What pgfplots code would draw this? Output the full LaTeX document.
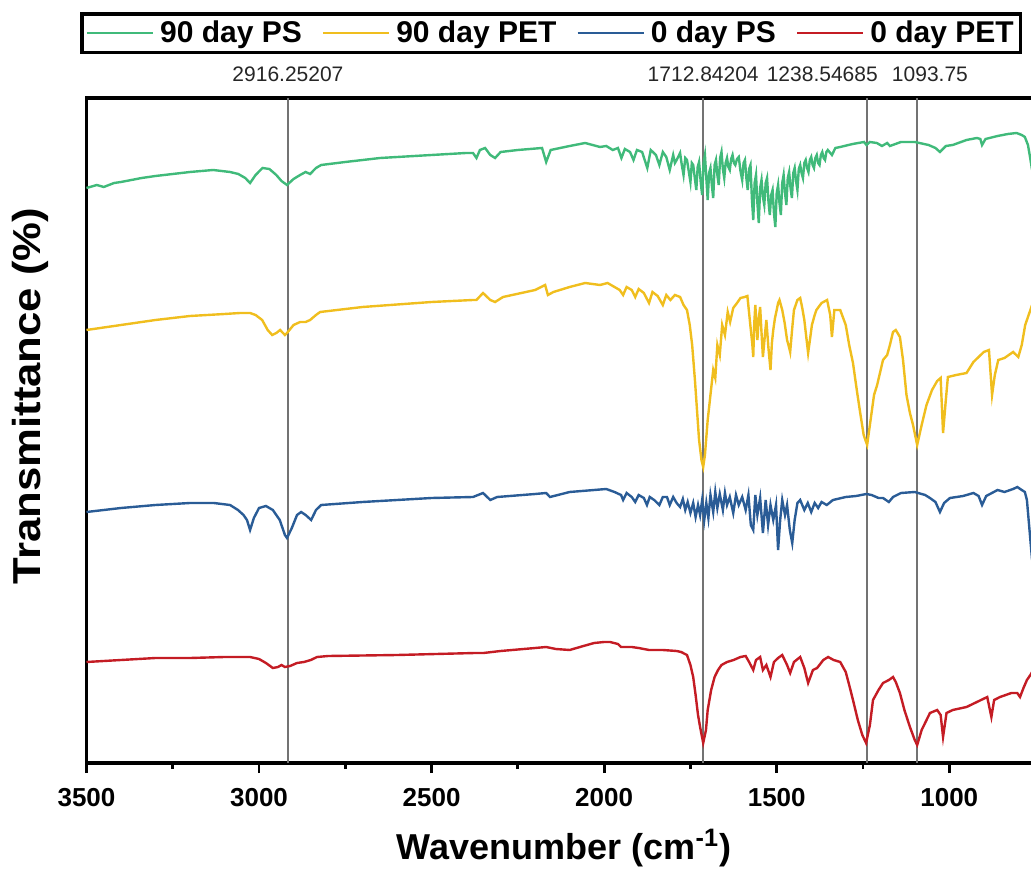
\documentclass[border=0pt]{standalone}
\usepackage{fontspec}
\setmainfont{Liberation Sans}
\newfontfamily\widesf{Liberation Sans}[FakeStretch=1.12]
\usepackage{pgfplots}
\pgfplotsset{compat=1.18}
\definecolor{cgreen}{RGB}{64,186,122}
\definecolor{cyellow}{RGB}{240,190,30}
\definecolor{cblue}{RGB}{42,92,150}
\definecolor{cred}{RGB}{196,28,36}
\definecolor{vgray}{RGB}{115,115,115}
\begin{document}
\begin{tikzpicture}
\begin{axis}[
  at={(43.25pt,54.5pt)}, anchor=south west,
  scale only axis, width=472.8pt, height=332.5pt,
  xmin=760, xmax=3500, x dir=reverse,
  ymin=0, ymax=665,
  clip=false,
  xtick={1000,1500,2000,2500,3000,3500},
  minor x tick num=1,
  ytick=\empty,
  xtick pos=bottom, tick align=outside,
  major tick length=5pt, minor tick length=3pt,
  every tick/.style={black, line width=1.4pt},
  axis line style={line width=1.6pt},
  /pgf/number format/assume math mode=true,
  /pgf/number format/1000 sep={},
  xticklabel style={font=\bfseries\fontsize{13}{15}\selectfont, yshift=-4pt},
  xlabel={Wavenumber (cm\textsuperscript{-1})},
  every axis x label/.style={at={(axis description cs:0.505,-0.128)}, anchor=center, font=\bfseries\fontsize{18}{21}\selectfont},
  ylabel={Transmittance (\%)},
  every axis y label/.style={at={(axis description cs:-0.0598,0.552)}, rotate=90, anchor=center, font=\widesf\bfseries\fontsize{19.5}{22}\selectfont},
  legend columns=4,
  legend image code/.code={\draw[#1] (0pt,0pt) -- (33pt,0pt);},
  legend style={at={(axis description cs:-0.0069,1.1293)}, anchor=north west,
    draw=black, line width=1.8pt, inner sep=2pt,
    font=\bfseries\fontsize{15}{17}\selectfont,
    nodes={inner sep=1.5pt},
    /tikz/every odd column/.append style={column sep=1.5pt},
    /tikz/every even column/.append style={column sep=8.5pt}},
]
% reference lines
\addplot[vgray, line width=0.8pt, forget plot] coordinates {(2916.25207,0) (2916.25207,665)};
\addplot[vgray, line width=0.8pt, forget plot] coordinates {(1712.84204,0) (1712.84204,665)};
\addplot[vgray, line width=0.8pt, forget plot] coordinates {(1238.54685,0) (1238.54685,665)};
\addplot[vgray, line width=0.8pt, forget plot] coordinates {(1093.75,0) (1093.75,665)};
% 90 day PS
\addplot[cgreen, line width=1.2pt] coordinates {
(3500,575)(3470,578)(3450,576)(3420,580)(3400,581)(3370,583)(3340,585)(3300,587)(3250,589)(3200,591)(3133,593)(3084,591)(3060,589)(3040,585)(3026,580)(3010,588)(2990,595)(2970,594)(2950,588)(2935,582)(2919,578)(2900,584)(2881,588)(2865,591)(2852,589)(2835,595)(2820,598)(2750,601)(2649,605)(2500,608)(2400,610)(2380,610)(2370,605)(2360,613)(2345,615)(2330,608)(2316,605)(2300,611)(2250,613)(2180,615)(2168,601)(2155,613)(2100,617)(2055,620)(2012,616)(1994,617)(1975,613)(1960,615)(1950,605)(1940,614)(1925,611)(1915,603)(1905,613)(1890,611)(1875,595)(1865,613)(1850,608)(1840,598)(1830,611)(1820,606)(1810,593)(1800,608)(1795,600)(1790,603)(1780,610)(1775,598)(1770,588)(1765,605)(1760,603)(1755,592)(1750,581)(1746,600)(1742,598)(1737,584)(1733,573)(1729,596)(1725,601)(1720,580)(1716,568)(1712,600)(1708,608)(1704,585)(1700,563)(1696,590)(1692,595)(1688,578)(1684,565)(1680,598)(1676,603)(1672,588)(1668,578)(1664,605)(1660,611)(1656,594)(1652,585)(1648,600)(1644,605)(1640,596)(1636,593)(1632,604)(1628,608)(1624,600)(1620,598)(1615,604)(1610,606)(1605,592)(1600,583)(1596,600)(1592,603)(1588,585)(1584,573)(1580,594)(1576,598)(1572,565)(1568,543)(1564,580)(1560,588)(1556,560)(1552,540)(1548,575)(1544,583)(1540,566)(1536,558)(1532,580)(1528,585)(1524,562)(1520,548)(1516,568)(1512,573)(1508,550)(1504,536)(1500,570)(1496,578)(1492,560)(1488,548)(1484,580)(1480,588)(1476,570)(1472,558)(1468,585)(1464,591)(1460,575)(1456,565)(1452,590)(1448,595)(1444,582)(1440,573)(1436,594)(1432,598)(1428,590)(1424,585)(1420,600)(1416,603)(1412,595)(1408,591)(1404,603)(1400,606)(1396,598)(1392,595)(1388,605)(1384,608)(1380,600)(1376,598)(1372,608)(1368,611)(1364,605)(1360,603)(1356,611)(1352,613)(1340,608)(1330,615)(1316,616)(1280,619)(1247,621)(1240,618)(1230,621)(1210,620)(1195,617)(1180,620)(1172,617)(1140,621)(1100,621)(1060,618)(1040,615)(1027,611)(1010,617)(990,618)(950,623)(920,625)(910,624)(905,618)(895,624)(860,627)(830,629)(805,630)(790,628)(781,626)(772,618)(766,606)(760,593)
};
\addlegendentry{90 day PS}
% 90 day PET
\addplot[cyellow, line width=1.2pt] coordinates {
(3500,433)(3400,438)(3300,443)(3200,447)(3100,449)(3055,450)(3026,450)(3010,448)(2991,443)(2975,433)(2962,428)(2950,430)(2939,433)(2925,428)(2919,430)(2900,438)(2881,441)(2865,441)(2852,443)(2835,448)(2823,451)(2700,456)(2500,461)(2380,463)(2370,463)(2351,470)(2330,463)(2316,461)(2293,466)(2200,473)(2171,478)(2163,468)(2147,471)(2100,476)(2055,480)(2012,478)(1990,480)(1970,476)(1955,473)(1945,468)(1935,476)(1920,473)(1910,466)(1900,474)(1885,470)(1870,460)(1860,471)(1845,467)(1830,458)(1820,468)(1808,463)(1795,468)(1780,466)(1770,458)(1760,453)(1752,438)(1745,418)(1737,383)(1731,353)(1725,323)(1718,303)(1713,296)(1708,308)(1700,343)(1692,368)(1684,393)(1678,385)(1672,418)(1665,408)(1658,438)(1650,428)(1642,451)(1635,441)(1626,455)(1615,460)(1605,465)(1593,466)(1585,467)(1580,450)(1575,433)(1571,420)(1568,406)(1565,440)(1562,458)(1559,440)(1556,423)(1552,445)(1548,456)(1544,430)(1540,406)(1535,425)(1530,443)(1524,415)(1518,393)(1514,420)(1510,433)(1505,445)(1500,453)(1496,460)(1492,463)(1488,458)(1484,453)(1477,440)(1470,423)(1466,418)(1461,411)(1455,435)(1450,453)(1445,458)(1440,463)(1432,465)(1426,455)(1420,443)(1414,425)(1409,410)(1403,425)(1398,438)(1390,448)(1385,453)(1370,460)(1354,463)(1345,448)(1340,426)(1333,453)(1316,453)(1300,438)(1290,418)(1279,400)(1268,373)(1258,350)(1248,328)(1238,318)(1228,343)(1218,368)(1209,378)(1192,403)(1180,408)(1172,418)(1163,431)(1155,433)(1143,426)(1134,403)(1124,368)(1114,350)(1105,338)(1093,318)(1080,338)(1066,358)(1050,373)(1035,382)(1025,385)(1018,330)(1010,363)(1004,386)(980,388)(950,390)(930,401)(900,411)(885,413)(876,368)(868,388)(858,403)(840,405)(815,411)(800,406)(790,418)(780,438)(770,448)(760,458)
};
\addlegendentry{90 day PET}
% 0 day PS
\addplot[cblue, line width=1.2pt] coordinates {
(3500,251)(3450,253)(3400,255)(3300,258)(3200,260)(3131,260)(3084,258)(3061,253)(3045,248)(3035,243)(3026,233)(3015,245)(3000,255)(2980,257)(2960,253)(2940,243)(2925,228)(2919,225)(2905,235)(2890,248)(2878,251)(2865,248)(2849,243)(2835,253)(2820,258)(2700,261)(2500,265)(2380,266)(2351,270)(2330,263)(2310,266)(2200,269)(2168,270)(2157,266)(2100,271)(2029,273)(1994,274)(1970,271)(1951,268)(1945,263)(1935,270)(1920,266)(1910,261)(1900,268)(1885,265)(1876,258)(1868,266)(1855,263)(1840,258)(1830,266)(1818,266)(1810,258)(1800,266)(1790,260)(1780,256)(1772,264)(1765,253)(1758,261)(1750,250)(1742,260)(1735,246)(1728,258)(1722,248)(1716,263)(1710,243)(1704,260)(1698,245)(1692,268)(1684,251)(1678,271)(1672,255)(1665,269)(1656,253)(1650,270)(1644,258)(1636,266)(1626,250)(1618,268)(1610,258)(1600,266)(1590,253)(1582,268)(1575,238)(1568,233)(1562,268)(1556,248)(1548,265)(1540,230)(1532,263)(1525,238)(1518,258)(1510,243)(1502,258)(1496,213)(1490,243)(1484,263)(1476,248)(1470,258)(1462,233)(1455,220)(1448,243)(1440,260)(1432,263)(1420,253)(1410,260)(1400,251)(1390,260)(1380,255)(1370,261)(1355,258)(1337,263)(1300,266)(1270,267)(1240,269)(1225,268)(1205,265)(1192,265)(1175,261)(1163,266)(1140,270)(1100,271)(1070,268)(1056,265)(1040,261)(1027,251)(1015,260)(998,265)(960,267)(930,270)(915,267)(905,258)(893,267)(860,273)(840,271)(815,274)(803,276)(790,273)(781,271)(775,263)(770,243)(765,223)(760,203)
};
\addlegendentry{0 day PS}
% 0 day PET
\addplot[cred, line width=1.2pt] coordinates {
(3500,101)(3400,103)(3300,105)(3200,105)(3100,106)(3026,106)(3000,104)(2980,100)(2960,95)(2945,96)(2935,98)(2925,96)(2910,97)(2890,100)(2870,101)(2850,103)(2832,106)(2800,107)(2600,108)(2374,110)(2350,110)(2300,112)(2200,115)(2168,116)(2140,114)(2100,113)(2060,117)(2029,120)(2000,121)(1983,121)(1960,119)(1951,116)(1920,116)(1900,115)(1870,113)(1830,113)(1790,112)(1777,111)(1760,108)(1750,98)(1742,86)(1735,68)(1728,48)(1722,36)(1713,20)(1705,33)(1700,53)(1690,73)(1680,86)(1670,93)(1660,98)(1644,101)(1625,103)(1605,106)(1590,107)(1580,101)(1568,93)(1560,103)(1548,106)(1540,93)(1530,98)(1518,86)(1508,101)(1496,105)(1484,108)(1470,98)(1461,90)(1450,101)(1432,106)(1420,95)(1409,80)(1395,93)(1383,95)(1365,103)(1351,106)(1335,103)(1316,101)(1300,91)(1290,78)(1279,63)(1265,43)(1252,28)(1241,20)(1230,38)(1221,63)(1205,73)(1192,80)(1175,83)(1163,86)(1155,81)(1143,70)(1130,53)(1114,36)(1100,23)(1093,18)(1080,33)(1056,50)(1035,53)(1025,48)(1018,26)(1008,50)(990,53)(950,56)(920,61)(890,66)(878,46)(870,63)(853,66)(820,70)(803,70)(795,66)(785,75)(775,83)(765,88)(760,91)
};
\addlegendentry{0 day PET}
% peak labels
\node[font=\fontsize{10.5}{12}\selectfont, text=black!85] at (axis cs:2916.25,689) {2916.25207};
\node[font=\fontsize{10.5}{12}\selectfont, text=black!85] at (axis cs:1713,689) {1712.84204};
\node[font=\fontsize{10.5}{12}\selectfont, text=black!85] at (axis cs:1368,689) {1238.54685};
\node[font=\fontsize{10.5}{12}\selectfont, text=black!85] at (axis cs:1056,689) {1093.75};
\end{axis}
\pgfresetboundingbox
\path[use as bounding box] (0,0) rectangle (515.5pt,436pt);
\end{tikzpicture}
\end{document}
